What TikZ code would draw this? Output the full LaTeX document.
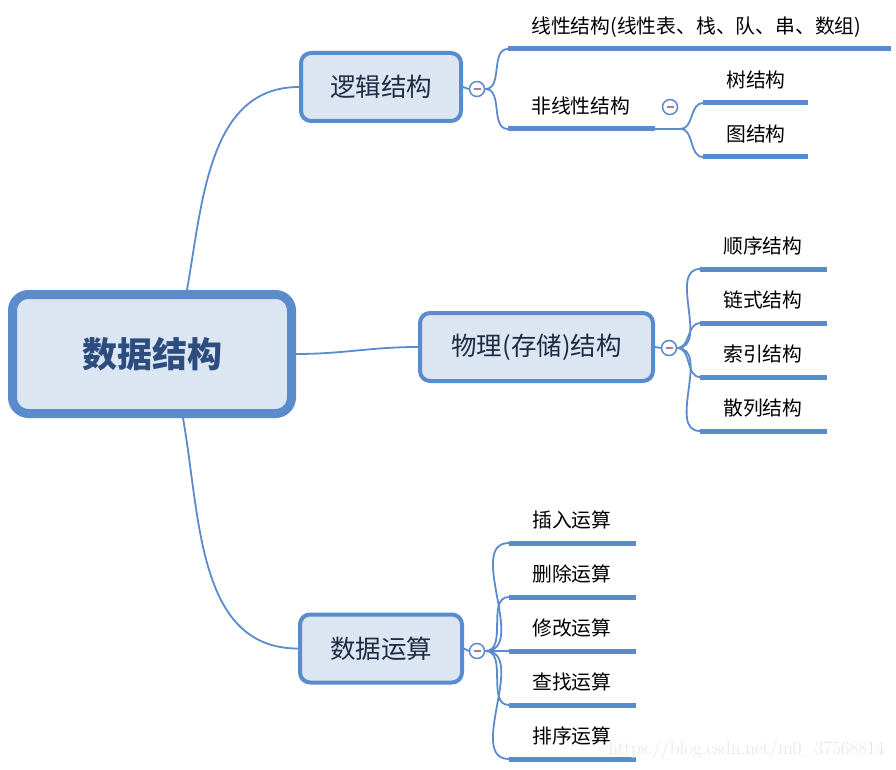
\documentclass[tikz,border=0pt]{standalone}
\usepackage{fontspec}
\newfontfamily\cjk{Noto Sans CJK SC}
\definecolor{mapblue}{HTML}{5A8BCD}
\definecolor{mapfill}{HTML}{DCE6F2}
\definecolor{roottext}{HTML}{2C4D7E}
\definecolor{subtext}{HTML}{1D2B44}
\definecolor{foldmark}{HTML}{A97C96}
\tikzset{
  rootbox/.style={draw=mapblue, fill=mapfill, line width=9pt, rounded corners=16pt, minimum width=279pt, minimum height=119pt, font=\cjk\bfseries\fontsize{35}{35}\selectfont, text=roottext},
  subbox/.style={draw=mapblue, fill=mapfill, line width=4pt, rounded corners=10pt, minimum height=68pt, font=\cjk\fontsize{25.5}{25.5}\selectfont, text=subtext},
  fold/.style={circle, draw=mapblue, line width=1.5pt, fill=white, minimum size=15pt, inner sep=0pt, path picture={\draw[foldmark, line width=1.5pt] ([xshift=-3.5pt]path picture bounding box.center) -- ([xshift=3.5pt]path picture bounding box.center);}},
  leaf/.style={anchor=south west, inner sep=0pt, text width=#1, align=left, text height=16pt, text depth=15pt, font=\cjk\fontsize{19.8}{19.8}\selectfont, execute at begin node={\hspace*{23pt}}},
  uline/.style={mapblue, line width=5pt},
  conn/.style={mapblue, line width=1.8pt}
}
\begin{document}
\begin{tikzpicture}[x=1pt,y=1pt]
\useasboundingbox (0,0) rectangle (896,-770);
\node[rootbox] (root) at (152,-354) {数据结构};
\node[subbox, minimum width=160pt] (logic) at (381,-87) {逻辑结构};
\node[subbox, minimum width=233pt] (store) at (536.5,-347) {物理(存储)结构};
\node[subbox, minimum width=162pt] (oper) at (381,-648.5) {数据运算};
\node[fold] (flogic) at (477,-89) {};
\node[fold] (fstore) at (669,-348) {};
\node[fold] (foper) at (477,-651) {};
\node[fold] (fnon) at (670,-107) {};
\draw[conn] ([xshift=35pt]root.north) to[out=80,in=180] (logic.west);
\draw[conn] (root.east) to[out=0,in=180] (store.west);
\draw[conn] ([xshift=31pt]root.south) to[out=-80,in=180] (oper.west);
\draw[conn] (logic.east) -- (flogic.west);
\draw[conn] (store.east) -- (fstore.west);
\draw[conn] (oper.east) -- (foper.west);
\node[leaf=383pt] (linear) at (508,-49) {线性结构(线性表、栈、队、串、数组)};
\node[leaf=147pt] (nonlin) at (508,-129) {非线性结构};
\node[leaf=105pt] (tree) at (703,-103) {树结构};
\node[leaf=105pt] (graph) at (703,-157) {图结构};
\foreach \name in {linear, nonlin, tree, graph}
  \draw[uline] (\name.south west) -- (\name.south east);
\draw[conn] (flogic.east) to[out=0,in=180] (linear.south west);
\draw[conn] (flogic.east) to[out=0,in=180] (nonlin.south west);
\draw[conn] (nonlin.south east) -- ++(25,0) coordinate (njoin);
\draw[conn] (njoin) to[out=0,in=180] (tree.south west);
\draw[conn] (njoin) to[out=0,in=180] (graph.south west);
\foreach \name/\y/\txt in {seq/269/顺序结构, link/323/链式结构, index/377/索引结构, hash/431/散列结构} {
  \node[leaf=127pt] (\name) at (700,-\y) {\txt};
  \draw[uline] (\name.south west) -- (\name.south east);
  \draw[conn] (fstore.east) to[out=0,in=180] (\name.south west);
}
\foreach \name/\y/\txt in {ins/543/插入运算, del/597/删除运算, mod/651/修改运算, find/705/查找运算, sort/759/排序运算} {
  \node[leaf=127pt] (\name) at (509,-\y) {\txt};
  \draw[uline] (\name.south west) -- (\name.south east);
  \draw[conn] (foper.east) to[out=0,in=180] (\name.south west);
}
\node[text=gray!20, font=\fontsize{19}{19}\selectfont, anchor=east] (mark) at (888,-750) {https://blog.csdn.net/m0\_37568814};
\end{tikzpicture}
\end{document}
